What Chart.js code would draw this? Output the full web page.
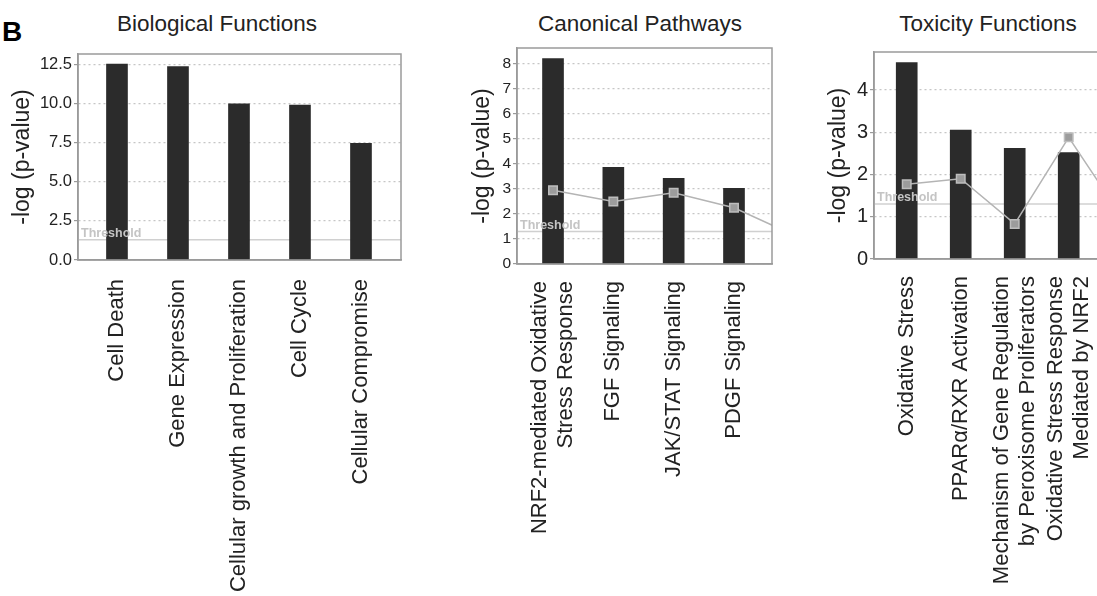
<!DOCTYPE html>
<html>
<head>
<meta charset="utf-8">
<title>IPA - B</title>
<script src="https://cdn.jsdelivr.net/npm/chart.js@4.4.0/dist/chart.umd.min.js"></script>
<style>
    body { margin: 0; width: 1097px; height: 596px; overflow: hidden; background: #fff; position: relative; font-family: 'Liberation Sans', Arial, sans-serif; color: #222; }
    canvas { position: absolute; top: 0; }
    .titulo { position: absolute; top: 13px; width: 300px; text-align: center; font-size: 22.5px; line-height: 22px; }
    .letra { position: absolute; left: 2px; top: 18px; font-size: 28px; line-height: 28px; font-weight: bold; color: #000; }
</style>
</head>
<body>
<div class="letra">B</div>
<div class="titulo" style="left:67px">Biological Functions</div>
<div class="titulo" style="left:490px">Canonical Pathways</div>
<div class="titulo" style="left:838px">Toxicity Functions</div>
<canvas id="grafBio" width="430" height="596" style="left:0px"></canvas>
<canvas id="grafCanon" width="350" height="596" style="left:440px"></canvas>
<canvas id="grafTox" width="345" height="596" style="left:795px"></canvas>
<script>
// datos
const bioLabels = ['Cell Death', 'Gene Expression', 'Cellular growth and Proliferation', 'Cell Cycle', 'Cellular Compromise']
const bioValues = [12.52, 12.35, 9.97, 9.9, 7.45]
const bioTicks = [0, 2.5, 5, 7.5, 10, 12.5]
const bioTickLabels = ['0.0', '2.5', '5.0', '7.5', '10.0', '12.5']

const canonLabels = [['NRF2-mediated Oxidative', 'Stress Response'], 'FGF Signaling', 'JAK/STAT Signaling', 'PDGF Signaling']
const canonValues = [8.22, 3.87, 3.43, 3.03]
// ratio: el ultimo punto cae fuera del area visible (solo se ve el tramo de linea)
const canonRatio = [2.95, 2.5, 2.85, 2.25, 1.15]
const canonTicks = [0, 1, 2, 3, 4, 5, 6, 7, 8]
const canonTickLabels = ['0', '1', '2', '3', '4', '5', '6', '7', '8']

const toxLabels = ['Oxidative Stress', 'PPAR\u03B1/RXR Activation', ['Mechanism of Gene Regulation', 'by Peroxisome Proliferators'], ['Oxidative Stress Response', 'Mediated by NRF2']]
const toxValues = [4.65, 3.05, 2.62, 2.52]
const toxRatio = [1.77, 1.9, 0.83, 2.88, 0.96]
const toxTicks = [0, 1, 2, 3, 4]
const toxTickLabels = ['0', '1', '2', '3', '4']

const threshold = 1.3

Chart.defaults.font.family = "'Liberation Sans', Arial, sans-serif"
Chart.defaults.color = '#222'

const marco = {
    id: 'marco',
    afterDraw(chart) {
        const {ctx, chartArea: a} = chart
        ctx.save()
        ctx.strokeStyle = '#9a9a9a'
        ctx.lineWidth = 1.5
        ctx.strokeRect(a.left, a.top, a.right - a.left, a.bottom - a.top)
        ctx.restore()
    }
}

const umbral = {
    id: 'umbral',
    beforeDatasetsDraw(chart) {
        const {ctx, chartArea: a} = chart
        const py = chart.scales.y.getPixelForValue(threshold)
        ctx.save()
        ctx.strokeStyle = '#d0d0d0'
        ctx.lineWidth = 1.5
        ctx.beginPath()
        ctx.moveTo(a.left, py)
        ctx.lineTo(a.right, py)
        ctx.stroke()
        ctx.restore()
    },
    afterDatasetsDraw(chart) {
        const {ctx, chartArea: a} = chart
        const py = chart.scales.y.getPixelForValue(threshold)
        ctx.save()
        ctx.fillStyle = '#c4c4c4'
        ctx.font = "bold 12.5px 'Liberation Sans', Arial, sans-serif"
        ctx.textBaseline = 'alphabetic'
        ctx.fillText('Threshold', a.left + 3, py - 3)
        ctx.restore()
    }
}

function grafica(id, p) {
    const canvas = document.getElementById(id)
    const ancho = canvas.width - p.yWidth - p.padRight
    // las etiquetas de dos lineas se centran sobre la barra
    const shift = 13.2 / (ancho / (p.xMax - p.xMin))

    const datasets = []
    if (p.ratio) {
        datasets.push({
            type: 'line',
            data: p.ratio.map((v, i) => ({x: i, y: v})),
            borderColor: '#b4b4b4',
            borderWidth: 1.5,
            pointStyle: 'rect',
            pointRadius: 6,
            pointBackgroundColor: '#9c9c9c',
            pointBorderColor: '#bdbdbd',
            pointBorderWidth: 1.5,
            order: 0
        })
    }
    datasets.push({
        type: 'bar',
        data: p.values.map((v, i) => ({x: i, y: v})),
        backgroundColor: '#2b2b2b',
        barThickness: 21,
        order: 1
    })

    new Chart(canvas, {
        type: 'bar',
        data: { datasets },
        options: {
            responsive: false,
            animation: false,
            layout: { padding: { top: p.padTop, right: p.padRight, left: 0, bottom: 0 } },
            plugins: { legend: { display: false }, tooltip: { enabled: false } },
            scales: {
                x: {
                    type: 'linear',
                    offset: false,
                    bounds: 'data',
                    min: p.xMin,
                    max: p.xMax,
                    afterFit: s => { s.height = p.xHeight },
                    afterBuildTicks: s => {
                        s.ticks = p.labels.map((l, i) => ({value: i - (Array.isArray(l) ? shift : 0)}))
                    },
                    grid: { display: false },
                    border: { color: '#9a9a9a', width: 1.5 },
                    ticks: {
                        autoSkip: false,
                        minRotation: 90,
                        maxRotation: 90,
                        padding: p.labelPad,
                        color: '#222',
                        font: { size: 22 },
                        callback: v => p.labels[Math.round(v)]
                    }
                },
                y: {
                    type: 'linear',
                    bounds: 'data',
                    min: 0,
                    max: p.yMax,
                    afterFit: s => { s.width = p.yWidth },
                    afterBuildTicks: s => {
                        s.ticks = p.ticks.map(v => ({value: v}))
                    },
                    grid: {
                        color: '#c6c6c6',
                        lineWidth: 1.2,
                        tickLength: 4,
                        tickColor: '#9a9a9a',
                        tickBorderDash: []
                    },
                    border: { color: '#9a9a9a', width: 1.5, dash: [2, 3] },
                    ticks: {
                        padding: 2,
                        color: '#222',
                        font: { size: p.tickSize },
                        callback: (v, i) => p.tickLabels[i]
                    },
                    title: {
                        display: true,
                        text: '-log (p-value)',
                        color: '#222',
                        font: { size: 23 },
                        padding: { top: p.titlePad, bottom: 0 }
                    }
                }
            }
        },
        plugins: [umbral, marco]
    })
}

grafica('grafBio', {
    labels: bioLabels, values: bioValues, ticks: bioTicks, tickLabels: bioTickLabels,
    yMax: 13.16, xMin: -0.639, xMax: 4.656,
    yWidth: 78, padRight: 29, padTop: 54, xHeight: 336,
    tickSize: 16.5, titlePad: 9, labelPad: 11
})

grafica('grafCanon', {
    labels: canonLabels, values: canonValues, ratio: canonRatio, ticks: canonTicks, tickLabels: canonTickLabels,
    yMax: 8.64, xMin: -0.597, xMax: 3.63,
    yWidth: 77, padRight: 18, padTop: 48, xHeight: 332,
    tickSize: 15.5, titlePad: 29, labelPad: 9
})

grafica('grafTox', {
    labels: toxLabels, values: toxValues, ratio: toxRatio, ticks: toxTicks, tickLabels: toxTickLabels,
    yMax: 4.9, xMin: -0.606, xMax: 4.135,
    yWidth: 79, padRight: 10, padTop: 52, xHeight: 337,
    tickSize: 20, titlePad: 30, labelPad: 9
})
</script>
</body>
</html>
